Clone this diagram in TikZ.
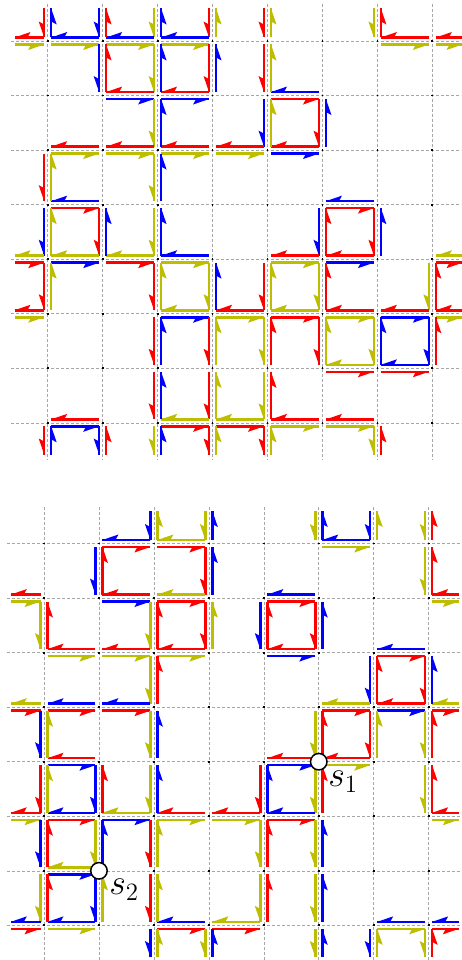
\documentclass[tikz,border=0pt]{standalone}
\definecolor{cR}{RGB}{255,0,0}
\definecolor{cB}{RGB}{0,0,255}
\definecolor{cY}{RGB}{190,190,0}
\tikzset{
  segline/.style={line width=2.5pt},
  gridline/.style={gray!70, dash pattern=on 3pt off 2pt, line width=0.6pt},
  marker/.style={circle, draw=black, fill=white, line width=1.5pt, minimum size=16.5pt, inner sep=0pt},
  lab/.style={anchor=north west, inner sep=0pt, font=\huge, scale=1.73}
}
\newcommand\drawseg[9]{%
  \draw[#1,segline] (#2,#3) -- (#4,#5);
  \fill[#1] (#4,#5) -- ++({-16*(#6)+5.5*(#8)},{-16*(#7)+5.5*(#9)}) -- ({#4-13*(#6)},{#5-13*(#7)}) -- cycle;}
\def\xoff{0}\def\yoff{0}
\newcommand\pq[6]{%
  \pgfmathsetmacro\xa{\xoff+ifthenelse(#1<0,11,47.7+54.95*(#1))+3.5}%
  \pgfmathsetmacro\xb{\xoff+ifthenelse(#1>6,466,47.7+54.95*(#1+1))-3.5}%
  \pgfmathsetmacro\ya{\yoff+ifthenelse(#2<0,5,41+54.55*(#2))+3.5}%
  \pgfmathsetmacro\yb{\yoff+ifthenelse(#2>6,458,41+54.55*(#2+1))-3.5}%
  \ifx N#3\else\drawseg{c#3}{\xa}{\ya}{\xb}{\ya}{1}{0}{0}{1}\fi
  \ifx N#4\else\drawseg{c#4}{\xb}{\ya}{\xb}{\yb}{0}{1}{-1}{0}\fi
  \ifx N#5\else\drawseg{c#5}{\xb}{\yb}{\xa}{\yb}{-1}{0}{0}{-1}\fi
  \ifx N#6\else\drawseg{c#6}{\xa}{\yb}{\xa}{\ya}{0}{-1}{1}{0}\fi
}
\begin{document}
\begin{tikzpicture}[x=1pt,y=-1pt]
\useasboundingbox[fill=white] (0,0) rectangle (461,960);
% grids
\foreach \i in {0,...,7} {
  \pgfmathsetmacro\gx{47.7+54.95*\i}
  \pgfmathsetmacro\gxb{44+54.95*\i}
  \pgfmathsetmacro\gy{41+54.55*\i}
  \pgfmathsetmacro\gyb{543.5+54.55*\i}
  \draw[gridline] (\gx,4) -- (\gx,460);
  \draw[gridline] (\gxb,507) -- (\gxb,963);
  \draw[gridline] (11,\gy) -- (461,\gy);
  \draw[gridline] (7.3,\gyb) -- (461,\gyb);
}
\foreach \i in {0,...,7} {
  \foreach \j in {0,...,7} {
    \pgfmathsetmacro\gx{47.7+54.95*\i}
    \pgfmathsetmacro\gy{41+54.55*\j}
    \fill ({\gx-0.9},{\gy-0.9}) rectangle ++(1.8,1.8);
    \fill ({\gx-3.7-0.9},{\gy+502.5-0.9}) rectangle ++(1.8,1.8);
  }
}
% ---------- top grid: \pq{col}{row}{T}{R}{B}{L}
\def\xoff{0}\def\yoff{0}
\pq{-1}{-1}{N}{R}{R}{N}
\pq{0}{-1}{N}{B}{B}{B}
\pq{1}{-1}{N}{Y}{B}{R}
\pq{2}{-1}{N}{R}{B}{B}
\pq{3}{-1}{N}{R}{N}{Y}
\pq{4}{-1}{N}{N}{N}{Y}
\pq{5}{-1}{N}{Y}{N}{N}
\pq{6}{-1}{N}{N}{R}{R}
\pq{7}{-1}{N}{N}{R}{N}
%
\pq{-1}{0}{Y}{N}{N}{N}
\pq{0}{0}{Y}{B}{N}{N}
\pq{1}{0}{Y}{Y}{R}{R}
\pq{2}{0}{Y}{R}{R}{B}
\pq{3}{0}{N}{R}{N}{B}
\pq{4}{0}{N}{N}{B}{Y}
\pq{6}{0}{Y}{N}{N}{N}
\pq{7}{0}{Y}{N}{N}{N}
%
\pq{0}{1}{N}{N}{R}{N}
\pq{1}{1}{B}{Y}{R}{N}
\pq{2}{1}{B}{N}{R}{B}
\pq{3}{1}{N}{B}{R}{N}
\pq{4}{1}{R}{R}{R}{Y}
\pq{5}{1}{N}{N}{N}{B}
%
\pq{-1}{2}{N}{R}{N}{N}
\pq{0}{2}{Y}{N}{B}{Y}
\pq{1}{2}{Y}{Y}{N}{N}
\pq{2}{2}{Y}{N}{N}{B}
\pq{3}{2}{Y}{N}{N}{N}
\pq{4}{2}{B}{N}{N}{N}
\pq{5}{2}{N}{N}{B}{N}
%
\pq{-1}{3}{N}{B}{Y}{N}
\pq{0}{3}{R}{R}{Y}{Y}
\pq{1}{3}{N}{Y}{Y}{B}
\pq{2}{3}{N}{N}{B}{B}
\pq{4}{3}{N}{B}{R}{N}
\pq{5}{3}{R}{R}{R}{R}
\pq{6}{3}{N}{N}{N}{B}
\pq{7}{3}{N}{N}{Y}{N}
%
\pq{-1}{4}{R}{R}{R}{N}
\pq{0}{4}{B}{N}{N}{Y}
\pq{1}{4}{R}{R}{N}{N}
\pq{2}{4}{Y}{Y}{Y}{Y}
\pq{3}{4}{N}{R}{R}{B}
\pq{4}{4}{Y}{Y}{Y}{Y}
\pq{5}{4}{B}{N}{R}{R}
\pq{6}{4}{N}{Y}{R}{N}
\pq{7}{4}{R}{N}{R}{R}
%
\pq{-1}{5}{Y}{N}{N}{N}
\pq{1}{5}{N}{R}{N}{N}
\pq{2}{5}{B}{R}{N}{B}
\pq{3}{5}{Y}{Y}{N}{Y}
\pq{4}{5}{R}{R}{N}{R}
\pq{5}{5}{Y}{Y}{Y}{Y}
\pq{6}{5}{B}{B}{B}{B}
\pq{7}{5}{Y}{N}{N}{R}
%
\pq{0}{6}{N}{N}{R}{N}
\pq{1}{6}{N}{R}{N}{N}
\pq{2}{6}{N}{R}{Y}{B}
\pq{3}{6}{N}{Y}{Y}{Y}
\pq{4}{6}{N}{N}{R}{R}
\pq{5}{6}{R}{N}{R}{N}
\pq{6}{6}{R}{N}{N}{N}
%
\pq{-1}{7}{N}{R}{N}{N}
\pq{0}{7}{B}{B}{N}{B}
\pq{1}{7}{N}{Y}{N}{R}
\pq{2}{7}{R}{R}{N}{B}
\pq{3}{7}{R}{R}{N}{Y}
\pq{4}{7}{Y}{N}{N}{Y}
\pq{5}{7}{Y}{Y}{N}{N}
\pq{6}{7}{N}{N}{N}{R}
% ---------- bottom grid
\def\xoff{-3.7}\def\yoff{502.5}
\pq{1}{-1}{N}{B}{B}{N}
\pq{2}{-1}{N}{Y}{Y}{Y}
\pq{3}{-1}{N}{N}{N}{B}
\pq{4}{-1}{N}{Y}{N}{N}
\pq{5}{-1}{N}{B}{B}{B}
\pq{6}{-1}{N}{Y}{N}{Y}
\pq{7}{-1}{N}{N}{N}{R}
%
\pq{-1}{0}{N}{N}{R}{N}
\pq{0}{0}{N}{B}{N}{N}
\pq{1}{0}{R}{N}{R}{R}
\pq{2}{0}{R}{R}{Y}{N}
\pq{3}{0}{N}{N}{N}{B}
\pq{4}{0}{N}{N}{B}{N}
\pq{5}{0}{Y}{N}{N}{N}
\pq{6}{0}{N}{Y}{N}{N}
\pq{7}{0}{N}{N}{R}{R}
%
\pq{-1}{1}{Y}{Y}{N}{N}
\pq{0}{1}{N}{N}{R}{R}
\pq{1}{1}{B}{Y}{R}{N}
\pq{2}{1}{R}{R}{R}{R}
\pq{3}{1}{N}{B}{N}{Y}
\pq{4}{1}{R}{R}{R}{R}
\pq{5}{1}{N}{N}{N}{B}
\pq{6}{1}{N}{N}{B}{N}
\pq{7}{1}{Y}{N}{N}{N}
%
\pq{-1}{2}{N}{N}{Y}{N}
\pq{0}{2}{Y}{N}{B}{N}
\pq{1}{2}{Y}{Y}{B}{N}
\pq{2}{2}{Y}{N}{N}{R}
\pq{4}{2}{B}{N}{N}{N}
\pq{5}{2}{N}{B}{Y}{N}
\pq{6}{2}{R}{R}{R}{R}
\pq{7}{2}{N}{N}{Y}{B}
%
\pq{-1}{3}{R}{B}{N}{N}
\pq{0}{3}{R}{N}{R}{Y}
\pq{1}{3}{R}{Y}{N}{N}
\pq{2}{3}{N}{N}{N}{B}
\pq{4}{3}{N}{Y}{R}{N}
\pq{5}{3}{R}{R}{R}{R}
\pq{6}{3}{B}{Y}{N}{Y}
\pq{7}{3}{R}{N}{N}{R}
%
\pq{-1}{4}{N}{R}{R}{N}
\pq{0}{4}{B}{B}{B}{Y}
\pq{1}{4}{N}{Y}{Y}{R}
\pq{2}{4}{N}{N}{R}{B}
\pq{3}{4}{N}{R}{R}{N}
\pq{4}{4}{B}{Y}{B}{B}
\pq{5}{4}{Y}{N}{N}{R}
\pq{6}{4}{N}{Y}{N}{N}
\pq{7}{4}{N}{N}{R}{R}
%
\pq{-1}{5}{Y}{B}{N}{N}
\pq{0}{5}{R}{Y}{Y}{R}
\pq{1}{5}{B}{R}{N}{B}
\pq{2}{5}{Y}{N}{N}{Y}
\pq{3}{5}{Y}{Y}{N}{N}
\pq{4}{5}{R}{Y}{N}{R}
\pq{5}{5}{N}{N}{N}{B}
\pq{7}{5}{Y}{N}{N}{N}
%
\pq{-1}{6}{N}{Y}{B}{N}
\pq{0}{6}{B}{B}{B}{R}
\pq{1}{6}{N}{R}{N}{Y}
\pq{2}{6}{N}{N}{B}{Y}
\pq{3}{6}{N}{Y}{Y}{N}
\pq{4}{6}{N}{Y}{N}{R}
\pq{5}{6}{N}{N}{N}{B}
\pq{6}{6}{N}{N}{B}{N}
\pq{7}{6}{N}{N}{B}{N}
%
\pq{-1}{7}{R}{N}{N}{N}
\pq{0}{7}{Y}{N}{N}{N}
\pq{1}{7}{N}{B}{N}{N}
\pq{2}{7}{R}{Y}{N}{Y}
\pq{3}{7}{R}{N}{N}{B}
\pq{4}{7}{N}{Y}{N}{N}
\pq{5}{7}{N}{B}{N}{B}
\pq{6}{7}{Y}{Y}{N}{Y}
\pq{7}{7}{R}{N}{N}{R}
% ---------- markers
\node[marker] (m1) at (318.75,761.7) {};
\node[marker] (m2) at (98.95,870.8) {};
\node[lab] (l1) at (328,771) {$s_1$};
\node[lab] (l2) at (109,879) {$s_2$};
\end{tikzpicture}
\end{document}
